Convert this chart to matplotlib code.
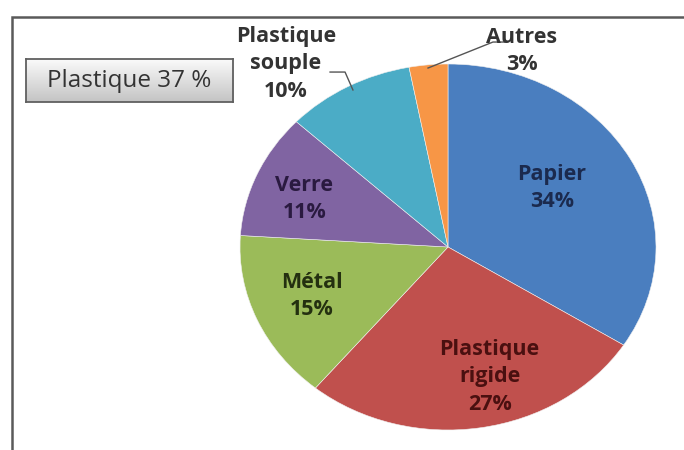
import numpy as np
import matplotlib
matplotlib.use("Agg")
import matplotlib.pyplot as plt
from matplotlib.lines import Line2D
from matplotlib.patches import Rectangle

plt.rcParams["font.family"] = ["Open Sans", "DejaVu Sans"]

categories = ["Papier", "Plastique\nrigide", "Métal", "Verre", "Plastique\nsouple", "Autres"]
shares = [34, 27, 15, 11, 10, 3]
colors = ["#4A7EBF", "#C0504D", "#9BBB59", "#8064A2", "#4BACC6", "#F79646"]
text_colors = ["#1B2A4E", "#4A1010", "#243010", "#2A1A40", "#333333", "#333333"]
summary = "Plastique 37 %"

# label anchor points in pie coordinates (radius 1, stretched ellipse)
label_pos = [(0.50, 0.32), (0.20, -0.71), (-0.655, -0.27), (-0.69, 0.26),
             (-0.78, 1.00), (0.355, 1.07)]

W, H = 684, 450
fig = plt.figure(figsize=(W / 100, H / 100), dpi=100)

# outer frame (only top and left edges are visible)
fig.add_artist(Rectangle((12 / W, -0.1), 1.2, 1 - 17 / H + 0.1, transform=fig.transFigure,
                         fill=False, edgecolor="#5a5a5a", linewidth=1.8))

cx, cy, rx, ry = 448, 247, 208, 183
ax = fig.add_axes([(cx - rx) / W, 1 - (cy + ry) / H, 2 * rx / W, 2 * ry / H])
wedges, _ = ax.pie(shares, colors=colors, startangle=90, counterclock=False, radius=1,
                   wedgeprops=dict(edgecolor="#f0f0f0", linewidth=0.4))
ax.set_aspect("auto")
ax.set_xlim(-1, 1)
ax.set_ylim(-1, 1)
ax.axis("off")

for (x, y), lab, share, tc in zip(label_pos, categories, shares, text_colors):
    ax.text(x, y, f"{lab}\n{share}%", ha="center", va="center", fontsize=15.5,
            fontweight="bold", color=tc, linespacing=1.38)

# leader lines for the outside labels
ax.add_line(Line2D([-0.567, -0.495, -0.457], [0.956, 0.956, 0.858], color="#555555",
                   linewidth=1.0, clip_on=False))
ax.add_line(Line2D([0.274, 0.216, -0.096], [1.12, 1.12, 0.978], color="#555555",
                   linewidth=1.0, clip_on=False))

# "Plastique 37 %" box with a gray gradient
bx0, by0, bx1, by1 = 26, 59, 233, 102
bax = fig.add_axes([bx0 / W, 1 - by1 / H, (bx1 - bx0) / W, (by1 - by0) / H])
grad = np.linspace(0, 1, 64).reshape(-1, 1)
bax.imshow(grad, aspect="auto", cmap=matplotlib.colors.LinearSegmentedColormap.from_list(
    "g", ["#fafafa", "#c4c4c4"]), extent=(0, 1, 1, 0))
bax.set_xticks([])
bax.set_yticks([])
for s in bax.spines.values():
    s.set_color("#606060")
    s.set_linewidth(1.3)
bax.text(0.5, 0.48, summary, ha="center", va="center", fontsize=17.5, color="#333333",
         transform=bax.transAxes)

fig.savefig("out.png", dpi=100)
